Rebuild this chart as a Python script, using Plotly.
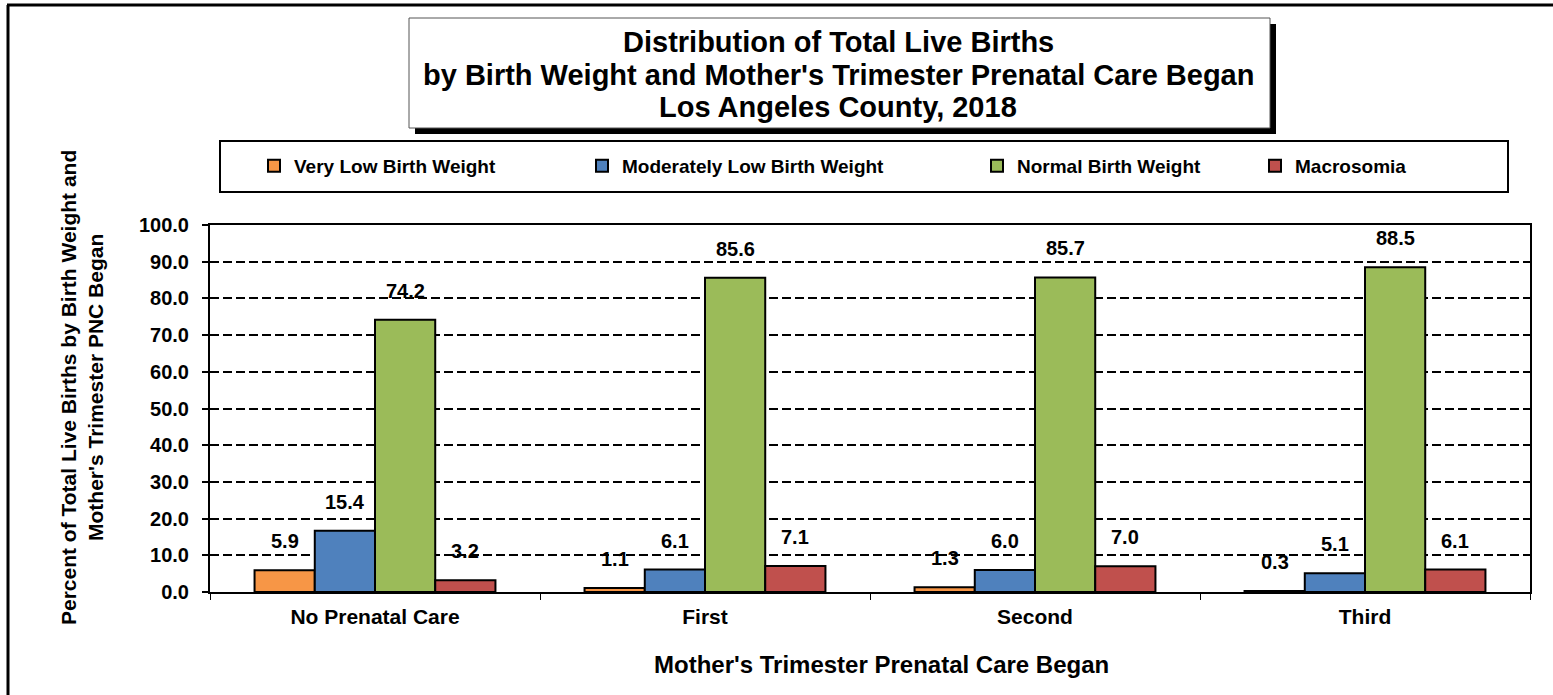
import plotly.graph_objects as go

categories = ["No Prenatal Care", "First", "Second", "Third"]
series_names = ["Very Low Birth Weight", "Moderately Low Birth Weight",
                "Normal Birth Weight", "Macrosomia"]
very_low = [5.9, 1.1, 1.3, 0.3]
moderately_low = [16.7, 6.1, 6.0, 5.1]
normal = [74.2, 85.6, 85.7, 88.5]
macrosomia = [3.2, 7.1, 7.0, 6.1]
very_low_labels = ["5.9", "1.1", "1.3", "0.3"]
moderately_low_labels = ["15.4", "6.1", "6.0", "5.1"]
normal_labels = ["74.2", "85.6", "85.7", "88.5"]
macrosomia_labels = ["3.2", "7.1", "7.0", "6.1"]
y_ticks = [0, 10, 20, 30, 40, 50, 60, 70, 80, 90, 100]
title_lines = ["Distribution of Total Live Births",
               "by Birth Weight and Mother's Trimester Prenatal Care Began",
               "Los Angeles County, 2018"]

colors = ["#F79646", "#4F81BD", "#9BBB59", "#C0504D"]
FONT = "Arial, 'Liberation Sans', sans-serif"

W, H = 1553, 695
L, R, T, B = 210, 23, 225, 103
PW, PH = W - L - R, H - T - B
BARGAP = 0.27


def px(x):
    return (x - L) / PW


def py(y):
    return (H - B - y) / PH


def bold(size):
    return dict(family=FONT, size=size, color="black", weight="bold")


# legend text start positions (pixels) for each series' own legend
legend_text_x = [295, 623, 1018, 1296]
legend_ids = ["legend", "legend2", "legend3", "legend4"]

fig = go.Figure()
all_vals = [very_low, moderately_low, normal, macrosomia]
all_labels = [very_low_labels, moderately_low_labels, normal_labels, macrosomia_labels]
for name, vals, col, lid in zip(series_names, all_vals, colors, legend_ids):
    fig.add_trace(go.Bar(
        name=name, x=categories, y=vals, legend=lid,
        marker=dict(color=col, line=dict(color="black", width=2)),
    ))

legend_layout = {}
for lid, tx in zip(legend_ids, legend_text_x):
    legend_layout[lid] = dict(
        orientation="h", x=px(tx - 41), y=py(166), xanchor="left", yanchor="middle",
        xref="paper", yref="paper", font=bold(19),
        bgcolor="rgba(0,0,0,0)", borderwidth=0,
    )

bar_px = PW / len(categories) * (1 - BARGAP) / len(series_names)
annotations = []
for i, (vals, labs) in enumerate(zip(all_vals, all_labels)):
    for c, v, t in zip(categories, vals, labs):
        annotations.append(dict(
            x=c, y=v, xref="x", yref="y", text=t, showarrow=False,
            xshift=(i - 1.5) * bar_px, yshift=16, yanchor="bottom",
            font=bold(20),
        ))

# Title lines
for line, ty in zip(title_lines, [42, 75, 107]):
    annotations.append(dict(
        x=px(838), y=py(ty), xref="paper", yref="paper", showarrow=False,
        text=line, font=bold(29), xanchor="center", yanchor="middle",
    ))
# Y axis title
annotations.append(dict(
    x=px(82), y=py(388), xref="paper", yref="paper", showarrow=False,
    text="Percent of Total Live Births by Birth Weight and<br>Mother's Trimester PNC Began",
    textangle=-90, font=bold(21), align="center", xanchor="center", yanchor="middle",
))
# X axis title
annotations.append(dict(
    x=px(882), y=py(664), xref="paper", yref="paper", showarrow=False,
    text="Mother's Trimester Prenatal Care Began",
    font=bold(24), xanchor="center", yanchor="middle",
))

shapes = [
    # outer border
    dict(type="line", xref="paper", yref="paper", x0=px(8), x1=px(8), y0=py(700), y1=py(5),
         line=dict(color="black", width=3)),
    dict(type="line", xref="paper", yref="paper", x0=px(7), x1=px(1560), y0=py(5), y1=py(5),
         line=dict(color="black", width=3)),
    # title box shadow
    dict(type="rect", xref="paper", yref="paper", x0=px(415), x1=px(1276), y0=py(134), y1=py(24),
         fillcolor="black", line=dict(width=0), layer="below"),
    dict(type="rect", xref="paper", yref="paper", x0=px(409), x1=px(1270), y0=py(128), y1=py(18),
         fillcolor="white", line=dict(color="#555555", width=1), layer="below"),
    # legend box
    dict(type="rect", xref="paper", yref="paper", x0=px(220), x1=px(1508), y0=py(192), y1=py(141),
         fillcolor="rgba(0,0,0,0)", line=dict(color="black", width=2)),
]

fig.update_layout(
    width=W, height=H,
    margin=dict(l=L, r=R, t=T, b=B),
    paper_bgcolor="white", plot_bgcolor="white",
    barmode="group", bargap=BARGAP, bargroupgap=0,
    font=dict(family=FONT, color="black"),
    showlegend=True,
    annotations=annotations,
    shapes=shapes,
    xaxis=dict(
        type="category", tickson="boundaries", ticks="outside", ticklen=6,
        tickwidth=1, tickcolor="black", showline=True, linecolor="black",
        linewidth=2, mirror=True, showgrid=False,
        tickfont=bold(21), ticklabelstandoff=5,
    ),
    yaxis=dict(
        range=[0, 100], tickvals=y_ticks, tickformat=".1f",
        ticks="outside", ticklen=6, tickwidth=2, tickcolor="black",
        showline=True, linecolor="black", linewidth=2, mirror=True,
        showgrid=True, gridcolor="black", gridwidth=2, griddash="9px,4px",
        zeroline=False, tickfont=bold(20), ticklabelstandoff=9,
    ),
    **legend_layout,
)

fig.write_html("out.html", config={"displayModeBar": False},
               post_script="document.body.style.margin='0';")
